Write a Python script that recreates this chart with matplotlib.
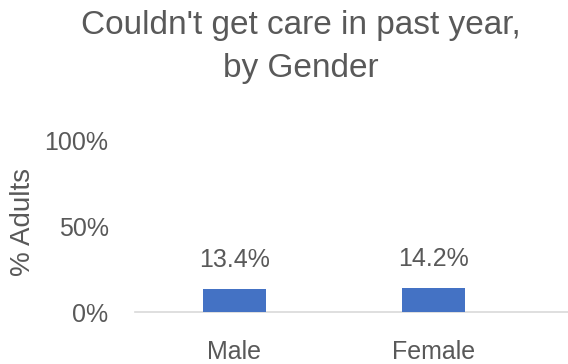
import matplotlib
matplotlib.use("Agg")
import matplotlib.pyplot as plt

# data
genders = ["Male", "Female"]
pct = [13.4, 14.2]
yticks = [0, 50, 100]
ytick_labels = ["0%", "50%", "100%"]

grey = "#595959"
bar_col = "#4472C4"
plt.rcParams['font.family'] = ['Liberation Sans', 'DejaVu Sans']

fig = plt.figure(figsize=(5.68, 3.64), dpi=100)
ax = fig.add_axes([135/568, 52/364, 1 - 135/568, 171/364])

x = list(range(len(genders)))
bars = ax.bar(x, pct, width=0.32, color=bar_col, zorder=3)
for b, v in zip(bars, pct):
    ax.text(b.get_x() + b.get_width()/2, v + 10, f"{v:.1f}%", ha="center", va="bottom",
            fontsize=18, color=grey)

ax.set_xlim(-0.5, 1.676)
ax.set_ylim(0, 100)
ax.set_yticks(yticks)
ax.set_yticklabels(ytick_labels)
ax.set_xticks(x)
ax.set_xticklabels(genders)
ax.tick_params(axis="both", length=0, labelsize=18, labelcolor=grey)
ax.tick_params(axis="y", pad=19)
ax.tick_params(axis="x", pad=20)

for s in ["top", "right", "left"]:
    ax.spines[s].set_visible(False)
ax.spines["bottom"].set_color("#D9D9D9")
ax.spines["bottom"].set_linewidth(1.2)

# y label and title as figure text
fig.text(23/568, 1 - 222/364, "% Adults", rotation=90, ha="center", va="center",
         fontsize=20, color=grey)
fig.text(301/568, 1 - 10/364, "Couldn't get care in past year,\nby Gender", ha="center", va="top",
         fontsize=24, color=grey, linespacing=1.5)

fig.savefig("out.png", dpi=100)
